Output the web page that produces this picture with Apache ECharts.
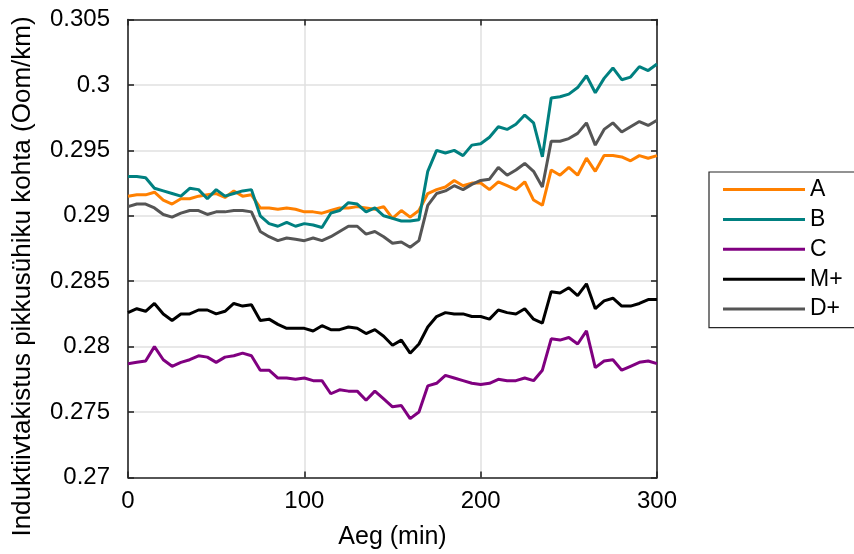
<!DOCTYPE html>
<html>
<head>
<meta charset="utf-8">
<script src="https://cdn.jsdelivr.net/npm/echarts@6/dist/echarts.min.js"></script>
<style>
  html, body { margin: 0; padding: 0; background: #ffffff; }
  #chart { width: 854px; height: 554px; }
</style>
</head>
<body>
<div id="chart"></div>
<script>
// Sample times (min)
const timeMin = [0, 5, 10, 15, 20, 25, 30, 35, 40, 45, 50, 55, 60, 65, 70, 75, 80, 85, 90, 95,
  100, 105, 110, 115, 120, 125, 130, 135, 140, 145, 150, 155, 160, 165, 170, 175, 180, 185, 190, 195,
  200, 205, 210, 215, 220, 225, 230, 235, 240, 245, 250, 255, 260, 265, 270, 275, 280, 285, 290, 295, 300];

// Inductive reactance per unit length (Ohm/km)
const seriesA = [0.2915, 0.2916, 0.2916, 0.2918, 0.2912, 0.2909, 0.2913, 0.2913, 0.2915, 0.2916,
  0.2917, 0.2914, 0.2919, 0.2915, 0.2916, 0.2906, 0.2906, 0.2905, 0.2906, 0.2905,
  0.2903, 0.2903, 0.2902, 0.2904, 0.2906, 0.2906, 0.2907, 0.2906, 0.2905, 0.2907,
  0.2898, 0.2904, 0.2899, 0.2904, 0.2917, 0.2920, 0.2922, 0.2927, 0.2923, 0.2925,
  0.2925, 0.2920, 0.2926, 0.2923, 0.2920, 0.2926, 0.2912, 0.2908, 0.2935, 0.2931,
  0.2937, 0.2931, 0.2944, 0.2934, 0.2946, 0.2946, 0.2945, 0.2942, 0.2946, 0.2944, 0.2946];

const seriesB = [0.2930, 0.2930, 0.2929, 0.2921, 0.2919, 0.2917, 0.2915, 0.2921, 0.2920, 0.2913,
  0.2920, 0.2915, 0.2917, 0.2919, 0.2920, 0.2900, 0.2894, 0.2892, 0.2895, 0.2892,
  0.2894, 0.2893, 0.2891, 0.2902, 0.2904, 0.2910, 0.2909, 0.2903, 0.2906, 0.2900,
  0.2898, 0.2896, 0.2896, 0.2897, 0.2934, 0.2950, 0.2948, 0.2950, 0.2946, 0.2954,
  0.2955, 0.2960, 0.2968, 0.2966, 0.2970, 0.2977, 0.2971, 0.2945, 0.2990, 0.2991,
  0.2993, 0.2998, 0.3007, 0.2994, 0.3005, 0.3013, 0.3004, 0.3006, 0.3014, 0.3011, 0.3016];

const seriesC = [0.2787, 0.2788, 0.2789, 0.2800, 0.2790, 0.2785, 0.2788, 0.2790, 0.2793, 0.2792,
  0.2788, 0.2792, 0.2793, 0.2795, 0.2793, 0.2782, 0.2782, 0.2776, 0.2776, 0.2775,
  0.2776, 0.2774, 0.2774, 0.2764, 0.2767, 0.2766, 0.2766, 0.2759, 0.2766, 0.2760,
  0.2754, 0.2755, 0.2745, 0.2750, 0.2770, 0.2772, 0.2778, 0.2776, 0.2774, 0.2772,
  0.2771, 0.2772, 0.2775, 0.2774, 0.2774, 0.2776, 0.2774, 0.2782, 0.2806, 0.2805,
  0.2807, 0.2802, 0.2812, 0.2784, 0.2789, 0.2790, 0.2782, 0.2785, 0.2788, 0.2789, 0.2787];

const seriesMplus = [0.2826, 0.2829, 0.2827, 0.2833, 0.2825, 0.2820, 0.2825, 0.2825, 0.2828, 0.2828,
  0.2825, 0.2827, 0.2833, 0.2831, 0.2832, 0.2820, 0.2821, 0.2817, 0.2814, 0.2814,
  0.2814, 0.2812, 0.2816, 0.2813, 0.2813, 0.2815, 0.2814, 0.2810, 0.2813, 0.2808,
  0.2801, 0.2805, 0.2795, 0.2802, 0.2815, 0.2823, 0.2826, 0.2825, 0.2825, 0.2823,
  0.2823, 0.2821, 0.2828, 0.2826, 0.2825, 0.2829, 0.2821, 0.2818, 0.2842, 0.2841,
  0.2845, 0.2839, 0.2848, 0.2829, 0.2835, 0.2837, 0.2831, 0.2831, 0.2833, 0.2836, 0.2836];

const seriesDplus = [0.2907, 0.2909, 0.2909, 0.2906, 0.2901, 0.2899, 0.2902, 0.2904, 0.2904, 0.2901,
  0.2903, 0.2903, 0.2904, 0.2904, 0.2903, 0.2888, 0.2884, 0.2881, 0.2883, 0.2882,
  0.2881, 0.2883, 0.2881, 0.2884, 0.2888, 0.2892, 0.2892, 0.2886, 0.2888, 0.2884,
  0.2879, 0.2880, 0.2876, 0.2881, 0.2908, 0.2917, 0.2919, 0.2923, 0.2920, 0.2924,
  0.2927, 0.2928, 0.2937, 0.2931, 0.2935, 0.2940, 0.2934, 0.2922, 0.2957, 0.2957,
  0.2959, 0.2963, 0.2971, 0.2954, 0.2966, 0.2971, 0.2964, 0.2968, 0.2972, 0.2969, 0.2973];

const seriesNames = ['A', 'B', 'C', 'M+', 'D+'];
const seriesValues = [seriesA, seriesB, seriesC, seriesMplus, seriesDplus];
const seriesColors = ['#ff8000', '#008080', '#800080', '#000000', '#555555'];

const xTicks = [0, 100, 200, 300];
const yTicks = [0.27, 0.275, 0.28, 0.285, 0.29, 0.295, 0.3, 0.305];

const axisColor = '#262626';
const gridColor = '#e0e0e0';
const fontFamily = 'Liberation Sans, Arial, Helvetica, sans-serif';

const chart = echarts.init(document.getElementById('chart'), null, { renderer: 'canvas' });

function pairs(values) {
  return values.map((v, i) => [timeMin[i], v]);
}

const baseAxis = {
  axisLine: { show: true, onZero: false, lineStyle: { color: axisColor, width: 1.6 } },
  axisTick: { show: true, inside: true, length: 6, lineStyle: { color: axisColor, width: 1.6 } }
};

const option = {
  animation: false,
  backgroundColor: '#ffffff',
  grid: { left: 128, right: 197, top: 19.5, bottom: 76.5, containLabel: false, outerBoundsMode: 'none' },
  legend: {
    orient: 'vertical',
    left: 709,
    top: 172,
    padding: [6, 14, 7, 14],
    itemGap: 6.9,
    itemWidth: 82,
    itemHeight: 3,
    icon: 'rect',
    borderColor: axisColor,
    borderWidth: 1.2,
    borderRadius: 0,
    backgroundColor: '#ffffff',
    textStyle: { fontFamily, fontSize: 23, color: '#000000', lineHeight: 22, padding: [0, 0, 0, 0] },
    data: seriesNames
  },
  xAxis: [
    Object.assign({}, baseAxis, {
      type: 'value', min: xTicks[0], max: xTicks[xTicks.length - 1], interval: 100,
      position: 'bottom',
      name: 'Aeg (min)', nameLocation: 'middle', nameGap: 47,
      nameTextStyle: { fontFamily, fontSize: 25, color: '#000000' },
      axisLabel: { show: true, margin: 12, fontFamily, fontSize: 24, color: '#000000' },
      splitLine: { show: true, lineStyle: { color: gridColor, width: 1.5 } }
    }),
    Object.assign({}, baseAxis, {
      type: 'value', min: xTicks[0], max: xTicks[xTicks.length - 1], interval: 100,
      position: 'top',
      axisLabel: { show: false },
      splitLine: { show: false }
    })
  ],
  yAxis: [
    Object.assign({}, baseAxis, {
      type: 'value', min: yTicks[0], max: yTicks[yTicks.length - 1], interval: 0.005,
      position: 'left',
      name: 'Induktiivtakistus pikkusühiku kohta (Oom/km)', nameLocation: 'middle', nameGap: 92,
      nameTextStyle: { fontFamily, fontSize: 26, color: '#000000', padding: [0, 56, 0, 0] },
      axisLabel: {
        show: true, margin: 18, fontFamily, fontSize: 24, color: '#000000',
        formatter: v => String(+v.toFixed(3))
      },
      splitLine: { show: true, lineStyle: { color: gridColor, width: 1.5 } }
    }),
    Object.assign({}, baseAxis, {
      type: 'value', min: yTicks[0], max: yTicks[yTicks.length - 1], interval: 0.005,
      position: 'right',
      axisLabel: { show: false },
      splitLine: { show: false }
    })
  ],
  series: seriesNames.map((name, i) => ({
    name,
    type: 'line',
    xAxisIndex: 0,
    yAxisIndex: 0,
    data: pairs(seriesValues[i]),
    showSymbol: false,
    symbol: 'none',
    color: seriesColors[i],
    lineStyle: { color: seriesColors[i], width: 3 },
    itemStyle: { color: seriesColors[i] }
  }))
};

chart.setOption(option);
</script>
</body>
</html>
